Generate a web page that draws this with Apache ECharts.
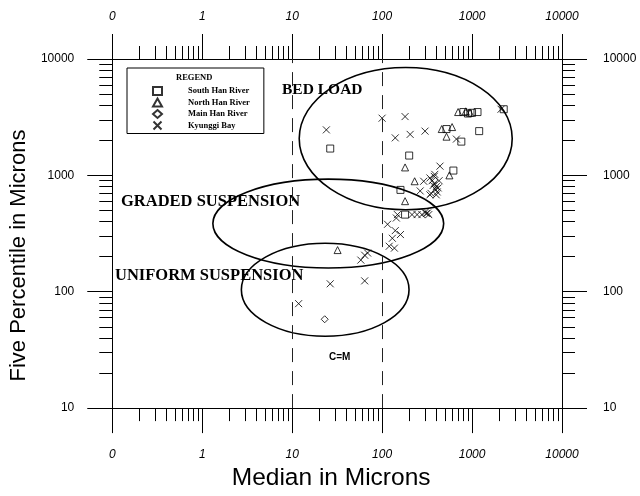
<!DOCTYPE html>
<html><head><meta charset="utf-8">
<script src="https://cdn.jsdelivr.net/npm/echarts@6/dist/echarts.min.js"></script>
<style>html,body{margin:0;padding:0;background:#fff}#c{width:640px;height:496px}</style>
</head><body><div id="c"></div>
<script>
// ---- tick data ----
const xMajorTicks = [0.1, 1, 10, 100, 1000, 10000];
const xTickLabels = ['0', '1', '10', '100', '1000', '10000'];
const yMajorTicks = [10, 100, 1000, 10000];
const yTickLabels = ['10', '100', '1000', '10000'];
const minorMultipliers = [2, 3, 4, 5, 6, 7, 8, 9];

// ---- series data (median, five percentile) in microns ----
const southHanMedian = [26.5, 200, 2250, 800, 1000, 1150, 1200, 520, 760, 620, 180, 160, 900];
const southHanP5     = [1700, 1480, 3700, 3500, 3450, 3500, 2400, 2500, 1950, 1100, 460, 750, 3400];

const northHanMedian = [180, 700, 850, 950, 460, 520, 230, 180, 32, 560, 600];
const northHanP5     = [1170, 3500, 3550, 3450, 2500, 2150, 890, 600, 228, 1000, 2600];

const mainHanMedian = [23];
const mainHanP5     = [58];

const kyunggiMedian = [24, 100, 180, 140, 205, 300, 2100, 670, 440, 385, 290,
  340, 360, 380, 400, 420, 370, 390, 410, 350, 400, 430, 380, 265, 340,
  148, 215, 245, 277, 300, 310, 320, 330, 144, 115, 140, 160, 130, 120, 137,
  58, 64, 69, 26.5, 64, 11.8];
const kyunggiP5 = [2460, 3100, 3200, 2100, 2250, 2400, 3700, 2050, 1200, 1020, 890,
  950, 900, 850, 800, 780, 820, 760, 720, 700, 680, 900, 980, 735, 680,
  460, 460, 460, 460, 480, 470, 475, 460, 430, 380, 335, 310, 288, 246, 237,
  187, 206, 215, 117, 124, 79];

// ---- zone ellipses: centre (microns) and half-axes (decades) ----
const zoneNames = ['BED LOAD', 'GRADED SUSPENSION', 'UNIFORM SUSPENSION'];
const zoneCenterMedian = [183, 25.2, 23.3];
const zoneCenterP5 = [2070, 385, 104];
const zoneHalfWidthDecades = [1.184, 1.283, 0.932];
const zoneHalfHeightDecades = [0.611, 0.382, 0.399];

const refLinesMedian = [10, 100];

function zip(a, b) { return a.map((v, i) => [v, b[i]]); }
function minorTicks(lo, hi) {
  const out = [];
  for (let d = lo; d < hi; d *= 10) minorMultipliers.forEach(m => out.push(+(d * m).toPrecision(6)));
  return out;
}
function labelFor(majors, labels) {
  return function (v) {
    const e = Math.round(Math.log10(v));
    const i = majors.findIndex(m => Math.round(Math.log10(m)) === e);
    return i >= 0 ? labels[i] : '';
  };
}

const chart = echarts.init(document.getElementById('c'));
const black = '#000';
const sans = 'Liberation Sans, Arial, sans-serif';
const serif = 'Liberation Serif, Times New Roman, serif';
const labelFontX = { color: black, fontSize: 12, fontStyle: 'italic', fontFamily: sans };
const labelFontY = { color: black, fontSize: 12, fontFamily: sans };

function xAxisPair(pos, showName) {
  return [{
    type: 'log', logBase: 10, min: 0.1, max: 10000, position: pos, gridIndex: 0,
    name: showName ? 'Median in Microns' : '', nameLocation: 'middle', nameGap: 55,
    nameTextStyle: { fontSize: 24.5, color: black, fontFamily: sans, padding: [0, 12, 0, 0] },
    axisLine: { show: true, onZero: false, lineStyle: { color: black, width: 1 } },
    axisTick: { show: true, inside: false, length: 25, customValues: xMajorTicks, lineStyle: { color: black, width: 1 } },
    axisLabel: { show: true, margin: pos === 'bottom' ? 41 : 36, customValues: xMajorTicks, formatter: labelFor(xMajorTicks, xTickLabels), ...labelFontX },
    splitLine: { show: false }, minorTick: { show: false }
  }, {
    type: 'log', logBase: 10, min: 0.1, max: 10000, position: pos, gridIndex: 0,
    axisLine: { show: false, onZero: false },
    axisTick: { show: true, inside: false, length: 13, customValues: minorTicks(0.1, 10000), lineStyle: { color: black, width: 1 } },
    axisLabel: { show: false }, splitLine: { show: false }
  }];
}
function yAxisPair(pos, showName) {
  return [{
    type: 'log', logBase: 10, min: 10, max: 10000, position: pos, gridIndex: 0,
    name: showName ? 'Five Percentile in Microns' : '', nameLocation: 'middle', nameGap: 70,
    nameTextStyle: { fontSize: 22, color: black, fontFamily: sans, padding: [0, 44, 0, 0] },
    axisLine: { show: true, onZero: false, lineStyle: { color: black, width: 1 } },
    axisTick: { show: true, inside: false, length: 25, customValues: yMajorTicks, lineStyle: { color: black, width: 1 } },
    axisLabel: { show: true, margin: pos === 'left' ? 38 : 41, customValues: yMajorTicks, formatter: labelFor(yMajorTicks, yTickLabels), ...labelFontY },
    splitLine: { show: false }, minorTick: { show: false }
  }, {
    type: 'log', logBase: 10, min: 10, max: 10000, position: pos, gridIndex: 0,
    axisLine: { show: false, onZero: false },
    axisTick: { show: true, inside: false, length: 13, customValues: minorTicks(10, 10000), lineStyle: { color: black, width: 1 } },
    axisLabel: { show: false }, splitLine: { show: false }
  }];
}

const hollow = { color: 'rgba(0,0,0,0)', borderColor: black, borderWidth: 1 };
const xPath = 'path://M0,0L10,10M10,0L0,10';

const option = {
  animation: false,
  backgroundColor: '#fff',
  grid: { left: 106, right: 78, top: 59, bottom: 83, containLabel: false },
  xAxis: [...xAxisPair('bottom', true), ...xAxisPair('top', false)],
  yAxis: [...yAxisPair('left', true), ...yAxisPair('right', false)],
  legend: {
    orient: 'vertical', left: 127, top: 68,
    padding: [18, 14, 3, 25], itemGap: 1.5, itemWidth: 9, itemHeight: 8,
    borderColor: black, borderWidth: 1, borderRadius: 0,
    textStyle: { fontSize: 8.5, fontWeight: 'bold', color: black, fontFamily: serif, padding: [0, 0, 0, 21], lineHeight: 10 },
    data: ['South Han River', 'North Han River', 'Main Han River', 'Kyunggi Bay'],
    selectedMode: false
  },
  graphic: [
    { type: 'text', left: 176, top: 73, style: { text: 'REGEND', fontSize: 8.5, fontWeight: 'bold', fill: black, fontFamily: serif } },
    { type: 'text', left: 282, top: 82, style: { text: zoneNames[0], fontSize: 15.5, fontWeight: 'bold', fill: black, fontFamily: serif } },
    { type: 'text', left: 121, top: 193, style: { text: zoneNames[1], fontSize: 16.5, fontWeight: 'bold', fill: black, fontFamily: serif } },
    { type: 'text', left: 115, top: 267, style: { text: zoneNames[2], fontSize: 16.5, fontWeight: 'bold', fill: black, fontFamily: serif } },
    { type: 'text', left: 329, top: 352, style: { text: 'C=M', fontSize: 10, fontWeight: 'bold', fill: black, fontFamily: sans } }
  ],
  series: [
    {
      type: 'custom', name: 'zones', xAxisIndex: 0, yAxisIndex: 0, silent: true, clip: false,
      data: zoneCenterMedian.map((m, i) => [m, zoneCenterP5[i], zoneHalfWidthDecades[i], zoneHalfHeightDecades[i]]),
      encode: { x: 0, y: 1 },
      renderItem: function (params, api) {
        const cx = api.value(0), cy = api.value(1), rx = api.value(2), ry = api.value(3);
        const c = api.coord([cx, cy]);
        const px = api.coord([cx * Math.pow(10, rx), cy]);
        const py = api.coord([cx, cy * Math.pow(10, ry)]);
        return { type: 'ellipse', shape: { cx: c[0], cy: c[1], rx: px[0] - c[0], ry: c[1] - py[1] },
                 style: { fill: 'none', stroke: black, lineWidth: 1.6 } };
      }
    },
    {
      type: 'line', name: 'refs', xAxisIndex: 0, yAxisIndex: 0, data: [], silent: true,
      markLine: {
        symbol: 'none', silent: true, label: { show: false },
        lineStyle: { color: '#222', width: 1, type: [14, 9] },
        data: refLinesMedian.map(v => ({ xAxis: v }))
      }
    },
    { type: 'scatter', name: 'South Han River', xAxisIndex: 0, yAxisIndex: 0, symbol: 'rect', symbolSize: 7, itemStyle: hollow, data: zip(southHanMedian, southHanP5) },
    { type: 'scatter', name: 'North Han River', xAxisIndex: 0, yAxisIndex: 0, symbol: 'triangle', symbolSize: 7, itemStyle: hollow, data: zip(northHanMedian, northHanP5) },
    { type: 'scatter', name: 'Main Han River', xAxisIndex: 0, yAxisIndex: 0, symbol: 'diamond', symbolSize: 7, itemStyle: hollow, data: zip(mainHanMedian, mainHanP5) },
    { type: 'scatter', name: 'Kyunggi Bay', xAxisIndex: 0, yAxisIndex: 0, symbol: xPath, symbolSize: 7, itemStyle: { color: 'rgba(0,0,0,0)', borderColor: black, borderWidth: 1 }, data: zip(kyunggiMedian, kyunggiP5) }
  ]
};
chart.setOption(option);
</script></body></html>
